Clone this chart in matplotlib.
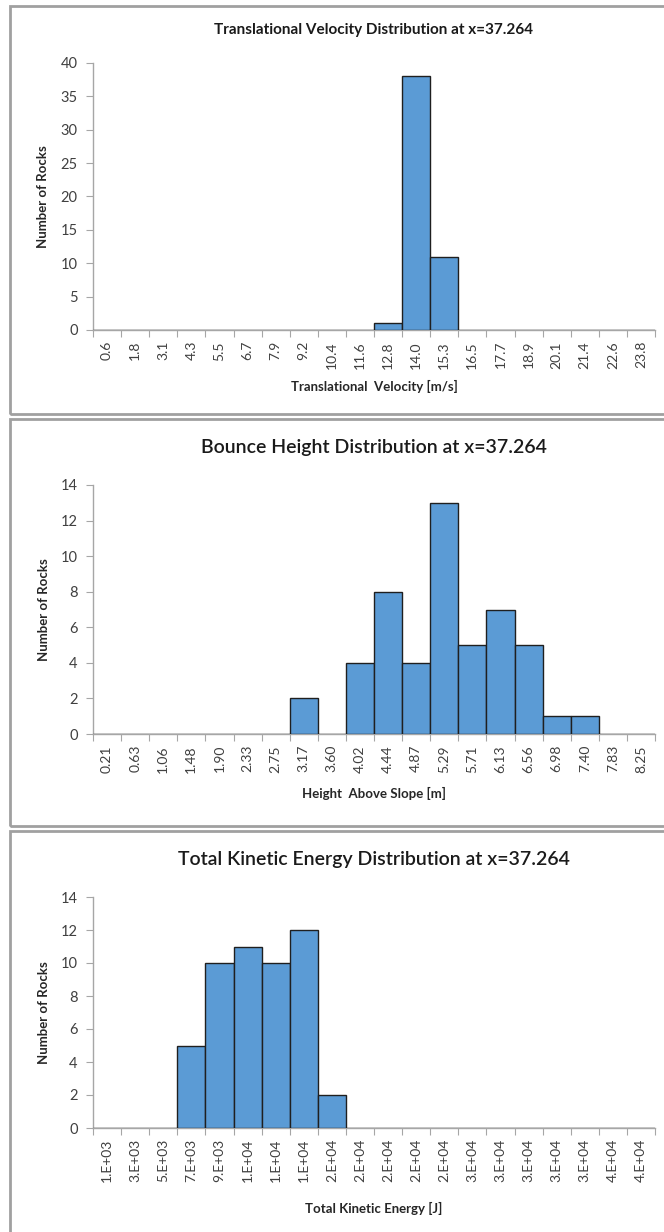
import matplotlib.pyplot as plt
from matplotlib.patches import Rectangle
import numpy as np

plt.rcParams['font.family'] = ['Lato', 'DejaVu Sans']

# Translational velocity histogram
vel_labels = ['0.6', '1.8', '3.1', '4.3', '5.5', '6.7', '7.9', '9.2', '10.4', '11.6',
              '12.8', '14.0', '15.3', '16.5', '17.7', '18.9', '20.1', '21.4', '22.6', '23.8']
vel_counts = [0, 0, 0, 0, 0, 0, 0, 0, 0, 0, 1, 38, 11, 0, 0, 0, 0, 0, 0, 0]

# Bounce height histogram
height_labels = ['0.21', '0.63', '1.06', '1.48', '1.90', '2.33', '2.75', '3.17', '3.60', '4.02',
                 '4.44', '4.87', '5.29', '5.71', '6.13', '6.56', '6.98', '7.40', '7.83', '8.25']
height_counts = [0, 0, 0, 0, 0, 0, 0, 2, 0, 4, 8, 4, 13, 5, 7, 5, 1, 1, 0, 0]

# Total kinetic energy histogram
energy_labels = ['1.E+03', '3.E+03', '5.E+03', '7.E+03', '9.E+03', '1.E+04', '1.E+04', '1.E+04',
                 '2.E+04', '2.E+04', '2.E+04', '2.E+04', '2.E+04', '3.E+04', '3.E+04', '3.E+04',
                 '3.E+04', '3.E+04', '4.E+04', '4.E+04']
energy_counts = [0, 0, 0, 5, 10, 11, 10, 12, 2, 0, 0, 0, 0, 0, 0, 0, 0, 0, 0, 0]

W, H = 664, 1232
fig = plt.figure(figsize=(W / 100, H / 100), dpi=100)

bar_color = '#5B9BD5'
axis_gray = '#A6A6A6'
text_gray = '#404040'

# panel frames (pixel coords: left, top, bottom)
frames = [(10, 6, 414), (10, 419, 826), (10, 831, 1240)]
for x0, top, bot in frames:
    fig.add_artist(Rectangle((x0 / W, 1 - bot / H), (W + 5 - x0) / W, (bot - top) / H,
                             transform=fig.transFigure, facecolor='none',
                             edgecolor='#A0A0A0', linewidth=2))

panels = [
    dict(labels=vel_labels, counts=vel_counts, ymax=40, ystep=5,
         title='Translational Velocity Distribution at x=37.264', tsize=11, tweight='bold',
         title_y=30, xlabel='Translational  Velocity [m/s]', top=63, bottom=330, xlab_y=386),
    dict(labels=height_labels, counts=height_counts, ymax=14, ystep=2,
         title='Bounce Height Distribution at x=37.264', tsize=14, tweight='semibold',
         title_y=447, xlabel='Height  Above Slope [m]', top=485, bottom=734, xlab_y=793),
    dict(labels=energy_labels, counts=energy_counts, ymax=14, ystep=2,
         title='Total Kinetic Energy Distribution at x=37.264', tsize=14, tweight='semibold',
         title_y=860, xlabel='Total Kinetic Energy [J]', top=897, bottom=1128, xlab_y=1208),
]

left, right = 93, 655
for p in panels:
    ax = fig.add_axes([left / W, 1 - p['bottom'] / H, (right - left) / W,
                       (p['bottom'] - p['top']) / H])
    x = np.arange(len(p['labels']))
    ax.bar(x, p['counts'], width=1.0, color=bar_color, edgecolor='#1F1F1F', linewidth=1.0,
           zorder=3)
    ax.set_xlim(-0.5, len(p['labels']) - 0.5)
    ax.set_ylim(0, p['ymax'])
    ax.set_yticks(np.arange(0, p['ymax'] + 1, p['ystep']))
    ax.set_xticks(np.arange(-0.5, len(p['labels']), 1.0))
    ax.set_xticklabels([])
    ax.set_xticks(x, minor=True)
    ax.set_xticklabels(p['labels'], minor=True, rotation=90, fontsize=10, color=text_gray)
    ax.tick_params(axis='x', which='minor', length=0, pad=8)
    ax.tick_params(axis='x', which='major', length=5, color=axis_gray, direction='out')
    ax.tick_params(axis='y', length=5, color=axis_gray, labelsize=10.5, labelcolor=text_gray,
                   direction='out', pad=6)
    for s in ['top', 'right']:
        ax.spines[s].set_visible(False)
    for s in ['left', 'bottom']:
        ax.spines[s].set_color(axis_gray)
        ax.spines[s].set_linewidth(1.0)
    ax.set_ylabel('Number of Rocks', fontsize=9.5, fontweight='bold', color='#262626',
                  labelpad=8)
    fig.text((left + right) / 2 / W, 1 - p['title_y'] / H, p['title'], ha='center',
             va='center', fontsize=p['tsize'], fontweight=p['tweight'], color='#1A1A1A')
    fig.text((left + right) / 2 / W, 1 - p['xlab_y'] / H, p['xlabel'], ha='center',
             va='center', fontsize=9.5, fontweight='bold', color='#262626')

fig.savefig('out.png', dpi=100)
